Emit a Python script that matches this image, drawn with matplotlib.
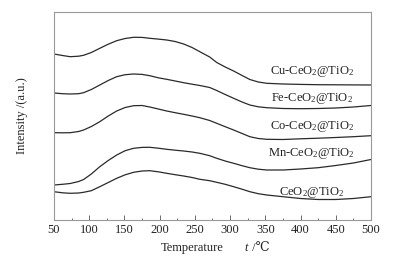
import matplotlib
matplotlib.use("Agg")
import matplotlib.pyplot as plt
from matplotlib.ticker import MultipleLocator, NullLocator

plt.rcParams['font.family'] = ['Liberation Serif', 'DejaVu Serif']
plt.rcParams['mathtext.fontset'] = 'custom'
plt.rcParams['mathtext.rm'] = 'Liberation Serif'
plt.rcParams['mathtext.it'] = 'Liberation Serif:italic'

temps = [50, 62, 73, 85, 92, 103, 115, 127, 139, 151, 163, 175, 186, 198, 210, 222, 234,
         246, 257, 271, 281, 293, 305, 317, 328, 340, 352, 375, 400, 425, 450, 475, 500]
cu   = [166.0, 164.5, 163.3, 163.8, 164.7, 167.5, 171.7, 175.8, 179.3, 181.5, 182.7, 182.6, 181.7, 180.9, 180.0, 178.5, 176.0,
        172.5, 168.3, 163.0, 157.5, 153.0, 149.0, 144.5, 140.5, 138.0, 136.7, 136.0, 135.6, 135.3, 135.2, 135.1, 135.0]
fe   = [127.0, 126.3, 126.0, 126.3, 127.3, 130.5, 135.0, 139.5, 143.3, 145.3, 146.0, 145.6, 144.3, 142.2, 140.7, 139.0, 137.3,
        135.8, 134.5, 132.5, 129.5, 125.5, 121.7, 118.0, 115.0, 113.2, 112.3, 111.5, 111.3, 111.5, 112.0, 113.0, 114.5]
co   = [87.3, 87.2, 87.3, 88.5, 90.0, 93.5, 98.3, 104.0, 109.0, 112.5, 114.3, 114.5, 113.0, 111.0, 109.0, 107.3, 105.7,
        104.0, 102.3, 99.5, 96.7, 93.3, 90.0, 86.5, 83.3, 81.5, 80.7, 80.5, 81.2, 81.8, 82.5, 83.3, 84.3]
mn   = [35.0, 35.7, 36.5, 38.5, 40.5, 46.0, 53.3, 59.5, 65.0, 69.3, 71.7, 72.6, 72.7, 71.8, 70.7, 69.8, 69.0,
        68.0, 66.7, 64.3, 61.7, 59.0, 56.7, 54.3, 52.3, 50.8, 50.0, 50.0, 51.0, 52.3, 54.5, 57.0, 60.5]
ceo2 = [28.3, 27.2, 26.7, 27.0, 27.7, 29.3, 33.3, 37.5, 41.7, 45.2, 47.7, 49.0, 49.3, 48.2, 46.7, 45.3, 44.0,
        42.5, 40.7, 39.3, 37.7, 35.7, 33.3, 30.8, 28.3, 26.3, 25.0, 23.3, 21.5, 20.5, 20.5, 21.5, 23.3]

labels = ["Cu-CeO$_2$@TiO$_2$", "Fe-CeO$_2$@TiO$_2$", "Co-CeO$_2$@TiO$_2$",
          "Mn-CeO$_2$@TiO$_2$", "CeO$_2$@TiO$_2$"]
label_y = [149, 121.7, 93.3, 66.7, 27.7]
label_x = 416

fig = plt.figure(figsize=(4.06, 2.61), dpi=100)
ax = fig.add_axes([54/406, 1-220/261, (371-54)/406, (220-12)/261])

for s in [cu, fe, co, mn, ceo2]:
    ax.plot(temps, s, color='#2a2a2a', lw=0.9, solid_joinstyle='round')

for lab, y in zip(labels, label_y):
    ax.text(label_x, y, lab, ha='center', va='center', fontsize=9, color='#222222')

ax.set_xlim(50, 500)
ax.set_ylim(0, 208)
ax.xaxis.set_major_locator(MultipleLocator(50))
ax.xaxis.set_minor_locator(MultipleLocator(25))
ax.yaxis.set_major_locator(NullLocator())
ax.tick_params(axis='x', which='major', direction='in', length=3.6, width=0.6,
               colors='#555555', labelcolor='#222222', labelsize=9, pad=3)
ax.tick_params(axis='x', which='minor', direction='in', length=1.8, width=0.6, colors='#555555')
for sp in ax.spines.values():
    sp.set_color('#999999')
    sp.set_linewidth(0.8)

ax.set_ylabel("Intensity /(a.u.)", fontsize=9, color='#222222')
ax.yaxis.set_label_coords(-0.082, 0.5)
fig.text(192/406, 1-248/261, "Temperature", ha='center', va='center', fontsize=9, color='#222222')
fig.text(246/406, 1-248/261, "t", ha='center', va='center', fontsize=9,
         style='italic', color='#222222')
fig.text(249/406, 1-248/261, " /℃", ha='left', va='center', fontsize=9, color='#222222')

fig.savefig("out.png", dpi=100)
